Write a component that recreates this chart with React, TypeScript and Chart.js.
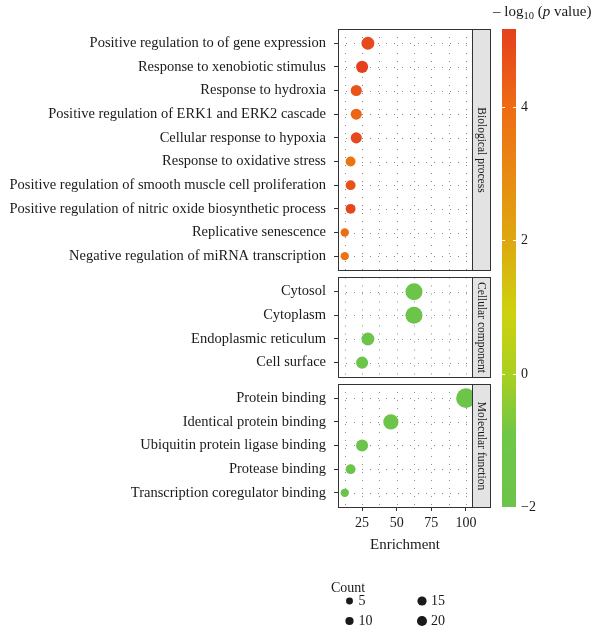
import { useEffect, useRef } from "react";
import { Chart, registerables } from "chart.js";

Chart.register(...registerables);

// ---- data -------------------------------------------------------------
const bpTerms = [
  "Positive regulation to of gene expression",
  "Response to xenobiotic stimulus",
  "Response to hydroxia",
  "Positive regulation of ERK1 and ERK2 cascade",
  "Cellular response to hypoxia",
  "Response to oxidative stress",
  "Positive regulation of smooth muscle cell proliferation",
  "Positive regulation of nitric oxide biosynthetic process",
  "Replicative senescence",
  "Negative regulation of miRNA transcription",
];
const bpEnrichment = [29.2, 25, 20.8, 20.8, 20.8, 16.7, 16.7, 16.7, 12.5, 12.5];
const bpCount = [7, 6, 5, 5, 5, 4, 4, 4, 3, 3];
const bpLogP = [4.9, 5.17, 4.6, 4.2, 4.9, 3.7, 4.7, 5.0, 3.9, 3.8];

const ccTerms = ["Cytosol", "Cytoplasm", "Endoplasmic reticulum", "Cell surface"];
const ccEnrichment = [62.5, 62.5, 29.2, 25];
const ccCount = [15, 15, 7, 6];
const ccLogP = [-2, -2, -2, -2];

const mfTerms = [
  "Protein binding",
  "Identical protein binding",
  "Ubiquitin protein ligase binding",
  "Protease binding",
  "Transcription coregulator binding",
];
const mfEnrichment = [100, 45.8, 25, 16.7, 12.5];
const mfCount = [24, 11, 6, 4, 3];
const mfLogP = [-2, -2, -2, -2, -2];

const panelNames = ["Biological process", "Cellular component", "Molecular function"];
const xTicks = [25, 50, 75, 100];
const xLimits = [7.6, 104.4];
const colorTicks = [4, 2, 0, -2];
const colorLimits = [-2, 5.17];
const countBreaks = [5, 10, 15, 20];

// ---- styling helpers --------------------------------------------------
const FONT = "'Liberation Serif', 'DejaVu Serif', serif";
const INK = "#1a1a1a";

const colorStops: [number, number[]][] = [
  [-2, [108, 196, 74]],
  [-0.9, [112, 198, 70]],
  [0, [170, 208, 32]],
  [0.9, [206, 210, 14]],
  [2, [222, 168, 16]],
  [3, [232, 138, 18]],
  [4, [238, 108, 20]],
  [5.17, [228, 64, 30]],
];

function colorFor(v: number): string {
  if (v <= colorStops[0][0]) return `rgb(${colorStops[0][1].join(",")})`;
  for (let i = 1; i < colorStops.length; i++) {
    const [v1, c1] = colorStops[i];
    const [v0, c0] = colorStops[i - 1];
    if (v <= v1) {
      const t = (v - v0) / (v1 - v0);
      const c = c0.map((a, k) => Math.round(a + (c1[k] - a) * t));
      return `rgb(${c.join(",")})`;
    }
  }
  return `rgb(${colorStops[colorStops.length - 1][1].join(",")})`;
}

const radiusFor = (count: number) => 1.2 + 2.7 * Math.log(count);
const legendRadiusFor = (count: number) => 1.9 + 0.7 * Math.sqrt(count);

// facet layout in y-axis units: each panel pads its rows by EXPAND, panels separated by GAP
const EXPAND = 0.6;
const GAP = 0.3;
const panelData = [
  { name: panelNames[0], terms: bpTerms, enrichment: bpEnrichment, count: bpCount, logp: bpLogP },
  { name: panelNames[1], terms: ccTerms, enrichment: ccEnrichment, count: ccCount, logp: ccLogP },
  { name: panelNames[2], terms: mfTerms, enrichment: mfEnrichment, count: mfCount, logp: mfLogP },
];
let cursor = 0;
const panels = panelData.map((p) => {
  const start = cursor;
  const end = start + p.terms.length - 1 + 2 * EXPAND;
  cursor = end + GAP;
  return { ...p, start, end, rows: p.terms.map((_, i) => start + EXPAND + i) };
});
const yMax = panels[panels.length - 1].end;
const allRows = panels.flatMap((p) => p.rows);
const allTerms = panels.flatMap((p) => p.terms);

const STRIP_W = 18;

const facetPlugin = {
  id: "facets",
  beforeDatasetsDraw(chart: any) {
    const { ctx, chartArea, scales } = chart;
    const xs = scales.x;
    const ys = scales.y;
    ctx.save();
    for (const p of panels) {
      const top = ys.getPixelForValue(p.start);
      const bottom = ys.getPixelForValue(p.end);
      ctx.fillStyle = "#ffffff";
      ctx.fillRect(chartArea.left, top, chartArea.right - chartArea.left, bottom - top);
      ctx.strokeStyle = "#8a8a8a";
      ctx.lineWidth = 1;
      ctx.setLineDash([1, 7]);
      for (let v = 12.5; v <= xLimits[1]; v += 12.5) {
        const x = Math.round(xs.getPixelForValue(v)) + 0.5;
        ctx.beginPath();
        ctx.moveTo(x, top);
        ctx.lineTo(x, bottom);
        ctx.stroke();
      }
      for (const r of p.rows) {
        const y = Math.round(ys.getPixelForValue(r)) + 0.5;
        ctx.beginPath();
        ctx.moveTo(chartArea.left, y);
        ctx.lineTo(chartArea.right, y);
        ctx.stroke();
      }
    }
    ctx.restore();
  },
  afterDatasetsDraw(chart: any) {
    const { ctx, chartArea, scales } = chart;
    const ys = scales.y;
    ctx.save();
    ctx.setLineDash([]);
    for (const p of panels) {
      const top = Math.round(ys.getPixelForValue(p.start)) + 0.5;
      const bottom = Math.round(ys.getPixelForValue(p.end)) + 0.5;
      const left = Math.round(chartArea.left) + 0.5;
      const right = Math.round(chartArea.right) + 0.5;
      // strip
      ctx.fillStyle = "#e3e3e3";
      ctx.fillRect(right, top, STRIP_W, bottom - top);
      ctx.strokeStyle = "#333333";
      ctx.lineWidth = 1;
      ctx.strokeRect(right, top, STRIP_W, bottom - top);
      // panel border
      ctx.strokeRect(left, top, right - left, bottom - top);
      // strip label
      ctx.save();
      ctx.translate(right + STRIP_W / 2, (top + bottom) / 2);
      ctx.rotate(Math.PI / 2);
      ctx.fillStyle = INK;
      ctx.font = `11.5px ${FONT}`;
      ctx.textAlign = "center";
      ctx.textBaseline = "middle";
      ctx.fillText(p.name, 0, 0);
      ctx.restore();
    }
    ctx.restore();
  },
  afterDraw(chart: any) {
    const { ctx, chartArea } = chart;
    ctx.save();
    // colour bar
    const barLeft = 502;
    const barW = 14;
    const barTop = chartArea.top;
    const barBottom = chartArea.bottom;
    const toY = (v: number) =>
      barBottom - ((v - colorLimits[0]) / (colorLimits[1] - colorLimits[0])) * (barBottom - barTop);
    for (let y = Math.floor(barTop); y < barBottom; y++) {
      const v = colorLimits[0] + ((barBottom - y - 0.5) / (barBottom - barTop)) * (colorLimits[1] - colorLimits[0]);
      ctx.fillStyle = colorFor(v);
      ctx.fillRect(barLeft, y, barW, 1);
    }
    ctx.strokeStyle = "#ffffff";
    ctx.lineWidth = 1;
    ctx.font = `14px ${FONT}`;
    ctx.fillStyle = INK;
    ctx.textAlign = "left";
    ctx.textBaseline = "middle";
    for (const t of colorTicks) {
      const y = Math.round(toY(t)) + 0.5;
      ctx.beginPath();
      ctx.moveTo(barLeft, y);
      ctx.lineTo(barLeft + 3, y);
      ctx.moveTo(barLeft + barW - 3, y);
      ctx.lineTo(barLeft + barW, y);
      ctx.stroke();
      ctx.fillText(t < 0 ? `\u2212${Math.abs(t)}` : `${t}`, barLeft + barW + 5, y);
    }
    // colour bar title: − log10 (p value)
    const parts: [string, string, number][] = [
      ["\u2013 log", `15px ${FONT}`, 0],
      ["10", `10.5px ${FONT}`, 4],
      [" (", `15px ${FONT}`, 0],
      ["p", `italic 15px ${FONT}`, 0],
      [" value)", `15px ${FONT}`, 0],
    ];
    let tx = 493;
    const ty = 12;
    ctx.textBaseline = "middle";
    for (const [txt, f, dy] of parts) {
      ctx.font = f;
      ctx.fillText(txt, tx, ty + dy);
      tx += ctx.measureText(txt).width;
    }
    // size legend
    ctx.font = `14px ${FONT}`;
    ctx.fillText("Count", 331, 588);
    const cols = [349.5, 422];
    const rowsY = [601, 621];
    countBreaks.forEach((c, i) => {
      const cx = cols[Math.floor(i / 2)];
      const cy = rowsY[i % 2];
      ctx.fillStyle = INK;
      ctx.beginPath();
      ctx.arc(cx, cy, legendRadiusFor(c), 0, Math.PI * 2);
      ctx.fill();
      ctx.fillText(`${c}`, cx + 9, cy);
    });
    ctx.restore();
  },
};

export default function App() {
  const canvasRef = useRef<HTMLCanvasElement | null>(null);

  useEffect(() => {
    if (!canvasRef.current) return;
    const chart = new Chart(canvasRef.current, {
      type: "scatter",
      data: {
        datasets: panels.map((p) => ({
          label: p.name,
          data: p.terms.map((_, i) => ({ x: p.enrichment[i], y: p.rows[i] })),
          pointRadius: p.count.map(radiusFor),
          pointHoverRadius: p.count.map(radiusFor),
          backgroundColor: p.logp.map(colorFor),
          borderWidth: 0,
          pointBorderWidth: 0,
          clip: 0,
        })),
      },
      options: {
        animation: false,
        responsive: false,
        devicePixelRatio: 1,
        layout: { padding: { top: 29, right: 128, bottom: 76, left: 0 } },
        plugins: { legend: { display: false }, tooltip: { enabled: false } },
        scales: {
          x: {
            type: "linear",
            min: xLimits[0],
            max: xLimits[1],
            afterBuildTicks: (s: any) => {
              s.ticks = xTicks.map((v) => ({ value: v }));
            },
            afterFit: (s: any) => {
              s.height = 48;
            },
            ticks: { font: { family: FONT, size: 14 }, color: INK, padding: 4, maxRotation: 0 },
            grid: { drawOnChartArea: false, drawTicks: true, tickLength: 4, color: "#333333" },
            border: { display: false },
            title: {
              display: true,
              text: "Enrichment",
              font: { family: FONT, size: 15 },
              color: INK,
              padding: { top: 0, bottom: 1 },
            },
          },
          y: {
            type: "linear",
            reverse: true,
            min: 0,
            max: yMax,
            afterBuildTicks: (s: any) => {
              s.ticks = allRows.map((v) => ({ value: v }));
            },
            afterFit: (s: any) => {
              s.width = 338;
            },
            ticks: {
              autoSkip: false,
              font: { family: FONT, size: 14.5 },
              color: INK,
              padding: 8,
              callback: (v: any) => {
                const idx = allRows.findIndex((r) => Math.abs(r - Number(v)) < 1e-6);
                return idx >= 0 ? allTerms[idx] : "";
              },
            },
            grid: { drawOnChartArea: false, drawTicks: true, tickLength: 4, color: "#333333" },
            border: { display: false },
          },
        },
      },
      plugins: [facetPlugin],
    });
    return () => chart.destroy();
  }, []);

  return (
    <div style={{ position: "fixed", left: 0, top: 0, width: 600, height: 631, background: "#ffffff" }}>
      <canvas ref={canvasRef} width={600} height={631} style={{ display: "block" }} />
    </div>
  );
}
